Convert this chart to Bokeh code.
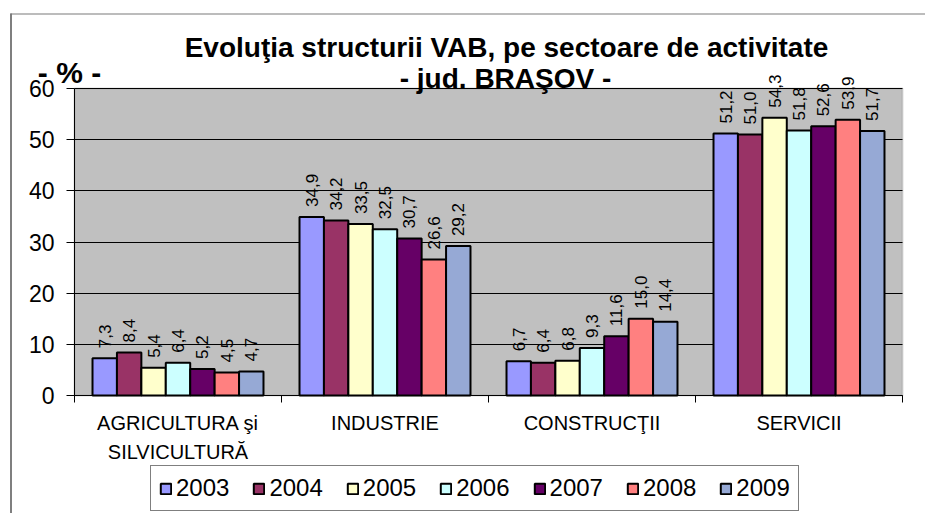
import math
from bokeh.plotting import figure
from bokeh.models import (ColumnDataSource, FixedTicker, Legend, LegendItem, Label,
                          BoxAnnotation, Range1d)
from bokeh.core.properties import value
from bokeh.transform import dodge
from bokeh.embed import file_html
from bokeh.resources import INLINE

# ---------------- data ----------------
categories = ["AGRICULTURA şi\nSILVICULTURĂ", "INDUSTRIE", "CONSTRUCŢII", "SERVICII"]
years = ["2003", "2004", "2005", "2006", "2007", "2008", "2009"]
v2003 = [7.3, 34.9, 6.7, 51.2]
v2004 = [8.4, 34.2, 6.4, 51.0]
v2005 = [5.4, 33.5, 6.8, 54.3]
v2006 = [6.4, 32.5, 9.3, 51.8]
v2007 = [5.2, 30.7, 11.6, 52.6]
v2008 = [4.5, 26.6, 15.0, 53.9]
v2009 = [4.7, 29.2, 14.4, 51.7]
series = [v2003, v2004, v2005, v2006, v2007, v2008, v2009]
colors = ["#9999FF", "#993366", "#FFFFCC", "#CCFFFF", "#660066", "#FF8080", "#96A9D5"]
y_ticks = [0, 10, 20, 30, 40, 50, 60]

title1 = "Evoluţia structurii VAB, pe sectoare de activitate"
title2 = "- jud. BRAŞOV -"
unit_label = "- % -"

FONT = "Liberation Sans"

# ---------------- geometry (pixels of the page) ----------------
W, H = 925, 513
PX0, PX1 = 74, 902          # plot-area left / right
PY0, PY1 = 395, 88          # plot-area bottom / top
NCAT = len(categories)
YMAX = y_ticks[-1]
sxu = (PX1 - PX0) / NCAT
syu = (PY0 - PY1) / YMAX


def dx(px):
    return (px - PX0) / sxu


def dy(py):
    return (PY0 - py) / syu


p = figure(width=W, height=H, output_backend="svg", toolbar_location=None,
           x_range=Range1d(dx(0), dx(W)), y_range=Range1d(dy(H), dy(0)))
p.min_border = 0
p.title.text = ""
p.background_fill_color = "white"
p.border_fill_color = "white"
p.outline_line_color = None

# outer chart-area frame (left and top edges)
p.add_layout(BoxAnnotation(left=dx(10), right=dx(11), top=dy(13), bottom=dy(H + 5),
                           fill_color="black", fill_alpha=1, line_color=None, level="image"))
p.add_layout(BoxAnnotation(left=dx(10), right=dx(W + 5), top=dy(13), bottom=dy(14),
                           fill_color="#7a7a7a", fill_alpha=1, line_color=None, level="image"))

# plot area (grey wall)
p.add_layout(BoxAnnotation(left=0, right=NCAT, bottom=0, top=YMAX,
                           fill_color="#C0C0C0", fill_alpha=1,
                           line_color="#8C8C8C", line_width=2, level="image"))

centers = [i + 0.5 for i in range(NCAT)]
bw = 0.118

renderers = []
for i, (yr, vals, col) in enumerate(zip(years, series, colors)):
    src = ColumnDataSource(dict(x=centers, top=vals,
                                lbl=[f"{v:.1f}".replace(".", ",") for v in vals]))
    off = (i - 3) * bw
    r = p.vbar(x=dodge("x", off, range=p.x_range), top="top", width=bw, source=src,
               fill_color=col, line_color="black", line_width=2)
    renderers.append(r)
    p.text(x=dodge("x", off, range=p.x_range), y="top", text="lbl", source=src,
           angle=math.pi / 2, text_align="left", text_baseline="middle", y_offset=-10,
           text_font=value(FONT), text_font_size="17px", text_color="black")

# grid
p.xgrid.visible = False
p.ygrid.ticker = FixedTicker(ticks=y_ticks)
p.ygrid.grid_line_color = "black"
p.ygrid.grid_line_width = 1
p.ygrid.bounds = (0, YMAX)
p.ygrid.cross_bounds = (0, NCAT)

# y axis
p.yaxis.fixed_location = 0
p.yaxis.bounds = (0, YMAX)
p.yaxis.ticker = FixedTicker(ticks=y_ticks)
p.yaxis.axis_line_color = "black"
p.yaxis.major_tick_line_color = "black"
p.yaxis.major_tick_out = 8
p.yaxis.major_tick_in = 0
p.yaxis.minor_tick_line_color = None
p.yaxis.major_label_standoff = 12
p.yaxis.major_label_text_font = FONT
p.yaxis.major_label_text_font_size = "23px"
p.yaxis.major_label_text_color = "black"

# x axis
p.xaxis.fixed_location = 0
p.xaxis.bounds = (0, NCAT)
p.xaxis.ticker = FixedTicker(ticks=centers, minor_ticks=list(range(NCAT + 1)))
p.xaxis.major_label_overrides = {c: name for c, name in zip(centers, categories)}
p.xaxis.axis_line_color = "black"
p.xaxis.major_tick_line_color = None
p.xaxis.major_tick_out = 0
p.xaxis.major_tick_in = 0
p.xaxis.minor_tick_line_color = "black"
p.xaxis.minor_tick_out = 7
p.xaxis.minor_tick_in = 0
p.xaxis.major_label_standoff = 9
p.xaxis.major_label_text_font = FONT
p.xaxis.major_label_text_font_size = "20px"
p.xaxis.major_label_text_line_height = 1.35
p.xaxis.major_label_text_color = "black"

# titles
p.add_layout(Label(x=dx(506), y=dy(47), text=title1, text_align="center", text_baseline="alphabetic",
                   text_font=FONT, text_font_size="28px", text_font_style="bold", text_color="black"))
p.add_layout(Label(x=dx(505), y=dy(78), text=title2, text_align="center", text_baseline="alphabetic",
                   text_font=FONT, text_font_size="28px", text_font_style="bold", text_color="black"))
p.add_layout(Label(x=dx(69), y=dy(72), text=unit_label, text_align="center", text_baseline="alphabetic",
                   text_font=FONT, text_font_size="30px", text_font_style="bold", text_color="black"))

# legend
legend = Legend(items=[LegendItem(label=y, renderers=[r]) for y, r in zip(years, renderers)],
                orientation="horizontal", location=(150, H - 511),
                label_text_font=FONT, label_text_font_size="24px", label_text_color="black",
                glyph_width=13, glyph_height=13, label_standoff=4, spacing=23,
                padding=8, margin=0, border_line_color="black", border_line_width=1,
                background_fill_color="white", background_fill_alpha=1)
p.add_layout(legend, "center")

open("out.html", "w").write(file_html(p, INLINE))
